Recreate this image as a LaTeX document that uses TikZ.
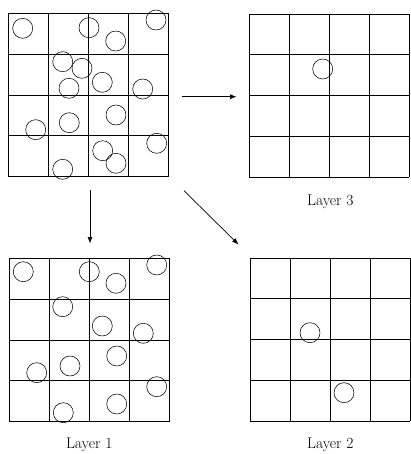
\documentclass[tikz,border=0pt]{standalone}
\usetikzlibrary{arrows.meta,calc}
\begin{document}
\begin{tikzpicture}[x=1pt,y=-1pt,
  gridbox/.style={draw=none,minimum width=160pt,minimum height=163.4pt,inner sep=0pt,outer sep=0pt},
  gridline/.style={line width=0.8pt},
  particle/.style={line width=0.55pt},
  flow/.style={line width=0.7pt,-{Latex[length=6.5pt,width=5pt]}},
  caption/.style={font=\fontsize{15.5}{17}\selectfont}]
\useasboundingbox (0,0) rectangle (410,454);

% four 4x4 grids, named by their centres
\node[gridbox] (g0) at (88.3,95.0) {};
\node[gridbox] (g3) at (329.3,95.7) {};
\node[gridbox] (g1) at (89.3,340.0) {};
\node[gridbox] (g2) at (330.0,339.7) {};

\foreach \g in {g0,g3,g1,g2}{
  \foreach \i in {0,1,2,3,4}{
    \draw[gridline] ($(\g.north west)!\i/4!(\g.north east)$) -- ($(\g.south west)!\i/4!(\g.south east)$);
    \draw[gridline] ($(\g.north west)!\i/4!(\g.south west)$) -- ($(\g.north east)!\i/4!(\g.south east)$);
  }
}

% particles, positions relative to each grid's top-left corner
\newcommand{\particles}[2]{%
  \foreach \px/\py in {#2}{
    \draw[particle] ($(#1.north west)+(\px,\py)$) circle[radius=10pt];
  }}
\particles{g0}{14.4/15, 80.7/14.4, 107.4/27.7, 147.7/6.7, 54.4/48.4, 73.7/55,
  60.7/75, 94/69, 134.4/75.7, 27.4/116.4, 61/109.4, 107.7/101.7,
  148.4/130, 94.4/137.4, 107.7/150, 54.4/156}
\particles{g1}{14/13.4, 80/13.4, 106.7/25, 147.4/6.7, 53.4/48.4, 93/67.7,
  134/75, 27.4/114.4, 60.7/107.7, 107.4/97.7, 147.4/128.4, 107.4/145.7, 54/154.4}
\particles{g3}{73.4/55}
\particles{g2}{60/74.7, 94/134.7}

% captions
\node[caption] (c3) at (330.3,201.7) {Layer 3};
\node[caption] (c1) at (89.2,444.5) {Layer 1};
\node[caption] (c2) at (330.3,444.5) {Layer 2};

% connectors
\coordinate (hs) at (182,96.7);
\coordinate (he) at (236.5,96.7);
\coordinate (vs) at (90,190);
\coordinate (ve) at (90,243.5);
\coordinate (ds) at (184,190.7);
\coordinate (de) at (238.5,244.5);
\draw[flow] (hs) -- (he);
\draw[flow] (vs) -- (ve);
\draw[flow] (ds) -- (de);
\end{tikzpicture}
\end{document}
